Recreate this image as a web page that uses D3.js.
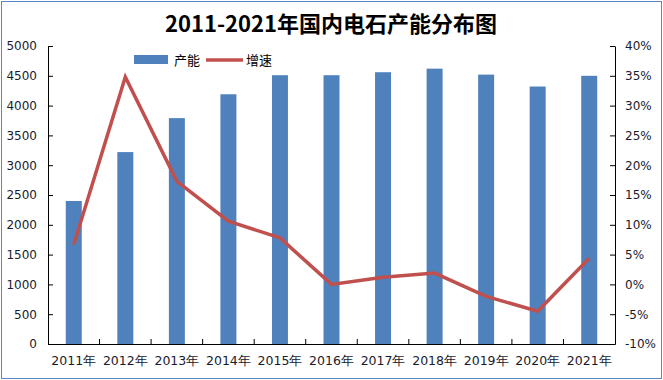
<!DOCTYPE html>
<html>
<head>
<meta charset="utf-8">
<script src="https://cdn.jsdelivr.net/npm/d3@7"></script>
<style>
  body { margin: 0; background: #fff; }
  svg text { font-family: "DejaVu Sans", sans-serif; }
</style>
</head>
<body>
<svg width="663" height="380"></svg>
<script>
// Data
var years = ["2011年", "2012年", "2013年", "2014年", "2015年", "2016年",
             "2017年", "2018年", "2019年", "2020年", "2021年"];
var capacity = [2400, 3220, 3790, 4190, 4510, 4510, 4560, 4620, 4520, 4320, 4500];
var growth = [6.7, 34.8, 17.3, 10.6, 7.8, 0.0, 1.2, 1.9, -2.0, -4.5, 4.4];
var leftTicks = d3.range(0, 5001, 500);
var rightTicks = d3.range(-10, 41, 5);

var BAR_COLOR = "#4f81bd";
var LINE_COLOR = "#c0504d";
var TEXT_COLOR = "#1a1a2e";

var svg = d3.select("svg");

// outer frame
svg.append("rect")
  .attr("x", 1.5).attr("y", 1.5)
  .attr("width", 660).attr("height", 377)
  .attr("fill", "none")
  .attr("stroke", "#5b86c5")
  .attr("stroke-width", 1);

var plot = { left: 48, right: 615, top: 46, bottom: 344 };

var x = d3.scaleBand()
  .domain(years)
  .range([plot.left, plot.right]);

var yLeft = d3.scaleLinear()
  .domain([0, 5000])
  .range([plot.bottom, plot.top]);

var yRight = d3.scaleLinear()
  .domain([-10, 40])
  .range([plot.bottom, plot.top]);

// title
svg.append("text")
  .attr("x", 331)
  .attr("y", 32)
  .attr("text-anchor", "middle")
  .style("font-family", "'Noto Sans CJK SC', sans-serif")
  .style("font-weight", "bold")
  .style("font-size", "22px")
  .attr("fill", "#000")
  .text("2011-2021年国内电石产能分布图");

// bars
var barW = x.bandwidth() * 0.31;
svg.append("g")
  .selectAll("rect")
  .data(capacity)
  .enter().append("rect")
  .attr("x", (d, i) => x(years[i]) + x.bandwidth() / 2 - barW / 2)
  .attr("y", d => yLeft(d))
  .attr("width", barW)
  .attr("height", d => yLeft(0) - yLeft(d))
  .attr("fill", BAR_COLOR);

// growth line
var line = d3.line()
  .x((d, i) => x(years[i]) + x.bandwidth() / 2)
  .y(d => yRight(d));

svg.append("path")
  .datum(growth)
  .attr("d", line)
  .attr("fill", "none")
  .attr("stroke", LINE_COLOR)
  .attr("stroke-width", 3.5);

// axes
function styleAxis(g) {
  g.selectAll("path, line").attr("stroke", "#000");
  g.selectAll("text")
    .attr("fill", TEXT_COLOR)
    .style("font-size", "12px");
}

var leftAxis = svg.append("g")
  .attr("transform", "translate(" + plot.left + ",0)")
  .call(d3.axisLeft(yLeft).tickValues(leftTicks).tickSize(-5).tickSizeOuter(0)
    .tickPadding(11).tickFormat(d3.format("d")));
styleAxis(leftAxis);

var rightAxis = svg.append("g")
  .attr("transform", "translate(" + plot.right + ",0)")
  .call(d3.axisRight(yRight).tickValues(rightTicks).tickSize(-5).tickSizeOuter(0)
    .tickPadding(10).tickFormat(d => d + "%"));
styleAxis(rightAxis);

var bottomAxis = svg.append("g")
  .attr("transform", "translate(0," + plot.bottom + ")")
  .call(d3.axisBottom(x).tickSize(0).tickPadding(12));
styleAxis(bottomAxis);
bottomAxis.selectAll("text").style("font-size", "12.5px");

// category separator ticks pointing up
bottomAxis.selectAll(".sep")
  .data(years.slice(1))
  .enter().append("line")
  .attr("class", "sep")
  .attr("x1", d => x(d)).attr("x2", d => x(d))
  .attr("y1", 0).attr("y2", -5)
  .attr("stroke", "#000");

// legend
var legend = svg.append("g").style("font-size", "13px");
legend.append("rect")
  .attr("x", 134).attr("y", 55)
  .attr("width", 34).attr("height", 9)
  .attr("fill", BAR_COLOR);
legend.append("text")
  .attr("x", 174).attr("y", 65)
  .attr("fill", "#000")
  .style("font-family", "'Noto Sans CJK SC', sans-serif")
  .text("产能");
legend.append("line")
  .attr("x1", 206).attr("x2", 243)
  .attr("y1", 60).attr("y2", 60)
  .attr("stroke", LINE_COLOR)
  .attr("stroke-width", 3.5);
legend.append("text")
  .attr("x", 246).attr("y", 65)
  .attr("fill", "#000")
  .style("font-family", "'Noto Sans CJK SC', sans-serif")
  .text("增速");
</script>
</body>
</html>
